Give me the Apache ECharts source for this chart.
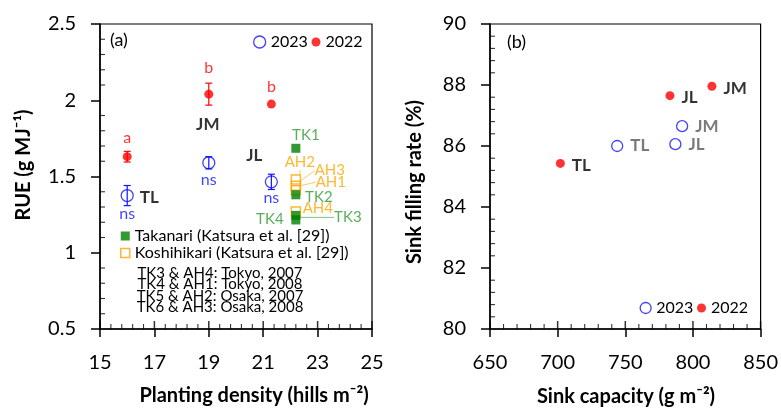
<!DOCTYPE html>
<html><head><meta charset="utf-8">
<script src="https://cdn.jsdelivr.net/npm/echarts@6/dist/echarts.min.js"></script>
<style>html,body{margin:0;padding:0;background:#fff}#c{width:781px;height:408px}</style>
</head><body><div id="c"></div>
<script>
// ---------- Panel (a) data ----------
const cultivars = ['TL', 'JM', 'JL'];
const density = [16, 19, 21.3];
const rue2022 = [1.63, 2.04, 1.975];
const rue2022Err = [0.035, 0.072, 0];
const rue2023 = [1.375, 1.59, 1.465];
const rue2023Err = [0.066, 0.04, 0.05];
const sig2022 = ['a', 'b', 'b'];
const sig2023 = ['ns', 'ns', 'ns'];
const takanariNames = ['TK1', 'TK2', 'TK3', 'TK4'];
const takanariDensity = [22.2, 22.2, 22.2, 22.2];
const takanariRue = [1.685, 1.38, 1.245, 1.215];
const koshiNames = ['AH1', 'AH2', 'AH3', 'AH4'];
const koshiDensity = [22.2, 22.2, 22.2, 22.2];
const koshiRue = [1.41, 1.48, 1.44, 1.27];
const siteNotes = ['TK3 & AH4: Tokyo, 2007', 'TK4 & AH1: Tokyo, 2008', 'TK5 & AH2: Osaka, 2007', 'TK6 & AH3: Osaka, 2008'];
const takanariLegend = 'Takanari (Katsura et al. [29])';
const koshiLegend = 'Koshihikari (Katsura et al. [29])';

// ---------- Panel (b) data (order: TL, JM, JL) ----------
const sinkCap2022 = [702, 814, 783];
const fill2022 = [85.43, 87.96, 87.65];
const sinkCap2023 = [744, 792, 787];
const fill2023 = [86.0, 86.65, 86.06];

// ---------- axis ranges (major step, minor subdivisions) ----------
const axisA = { xMin: 15, xMax: 25, xStep: 2, xSplit: 5, yMin: 0.5, yMax: 2.5, yStep: 0.5, ySplit: 5 };
const axisB = { xMin: 650, xMax: 850, xStep: 50, xSplit: 5, yMin: 80, yMax: 90, yStep: 2, ySplit: 5 };

// ---------- styling (label placement offsets, px) ----------
const FONT = 'Lato';
const BLUE = '#1010ff', RED = '#ff0000', GREEN = '#007f00', GREEN_T = '#2e9a2e', ORANGE = '#ffa500';
const tkOffsets = [[10, -13], [23, 2], [52, 2], [-26, -1]];
const tkLines = [false, false, true, false];
const ahOffsets = [[35, -8], [4, -17], [34, -15], [22, -3]];
const ahLines = [true, true, true, false];
const cultLabelOffsets = [[22, 41], [-1, 30], [-17, 51]];
const sig2022Dist = [6, 14, 5];
const sig2023Dist = [4, 2, 1];

const chart = echarts.init(document.getElementById('c'), null, { renderer: 'canvas' });

function mainAxis(grid, min, max, step, pos, tickLen) {
  return { gridIndex: grid, type: 'value', min, max, interval: step, position: pos,
    splitLine: { show: false },
    axisLine: { onZero: false, lineStyle: { color: '#000', width: 1.5 } },
    axisTick: { show: true, length: tickLen, lineStyle: { color: '#000', width: 1.5 } },
    axisLabel: { color: '#000', fontSize: 20, fontFamily: FONT, margin: 24 } };
}

// tick positions along an axis (axis decoration, derived from the axis range)
function tickValues(min, max, step, splits, majorsOnly) {
  const out = [];
  const n = Math.round((max - min) / step * splits);
  for (let i = 0; i <= n; i++) {
    const isMajor = i % splits === 0;
    if (majorsOnly ? isMajor : !isMajor) out.push(+(min + i * step / splits).toFixed(6));
  }
  return out;
}
// inward ticks drawn as thin rect symbols placed by the axis scale
function tickSeries(values, dir, fixed, len, width, gi) {
  return {
    type: 'scatter', xAxisIndex: gi, yAxisIndex: gi, silent: true, z: 6, clip: false,
    symbol: 'rect',
    symbolSize: dir === 'x' ? [width, len] : [len, width],
    symbolOffset: dir === 'x' ? [0, -len / 2] : [len / 2, 0],
    itemStyle: { color: '#000', borderWidth: 0 },
    label: { show: false },
    data: values.map(v => dir === 'x' ? [v, fixed] : [fixed, v])
  };
}
function panelTicks(a, gi) {
  return [
    tickSeries(tickValues(a.xMin, a.xMax, a.xStep, a.xSplit, false), 'x', a.yMin, 5, 1.1, gi),
    tickSeries(tickValues(a.xMin, a.xMax, a.xStep, a.xSplit, true), 'x', a.yMin, 8, 1.5, gi),
    tickSeries(tickValues(a.yMin, a.yMax, a.yStep, a.ySplit, false), 'y', a.xMin, 5, 1.1, gi)
  ];
}

function errorSeries(xs, ys, errs, color) {
  return {
    type: 'custom', xAxisIndex: 0, yAxisIndex: 0, silent: true, z: 1,
    encode: { x: 0, y: [1, 2] },
    data: xs.map((x, i) => [x, ys[i] - errs[i], ys[i] + errs[i]]),
    renderItem(params, api) {
      const lo = api.coord([api.value(0), api.value(1)]);
      const hi = api.coord([api.value(0), api.value(2)]);
      if (Math.abs(hi[1] - lo[1]) < 0.5) return { type: 'group', children: [] };
      const w = 3.5, st = { stroke: color, lineWidth: 1.2 };
      return { type: 'group', children: [
        { type: 'line', shape: { x1: lo[0], y1: lo[1], x2: hi[0], y2: hi[1] }, style: st },
        { type: 'line', shape: { x1: lo[0] - w, y1: lo[1], x2: lo[0] + w, y2: lo[1] }, style: st },
        { type: 'line', shape: { x1: hi[0] - w, y1: hi[1], x2: hi[0] + w, y2: hi[1] }, style: st }
      ] };
    }
  };
}

function yearLegend(name, left, top, size, iconStyle) {
  return { show: true, selectedMode: false, left, top, padding: 0, itemWidth: size, itemHeight: size,
    textStyle: { fontFamily: FONT, fontSize: 16, color: '#000' },
    data: [{ name, icon: 'circle', itemStyle: iconStyle }] };
}

const openBlue = { color: 'rgba(0,0,0,0)', borderColor: BLUE, borderWidth: 1.3 };
const solidRed = { color: RED, borderWidth: 0 };
const boldLabel = { fontFamily: FONT, fontWeight: 'bold', fontSize: 17 };

const option = {
  backgroundColor: '#fff',
  animation: false,
  grid: [
    { left: 100, right: 409, top: 24, bottom: 79, show: true, backgroundColor: 'rgba(0,0,0,0)', borderColor: '#000', borderWidth: 1.2, containLabel: false },
    { left: 490, right: 19, top: 24, bottom: 79, show: true, backgroundColor: 'rgba(0,0,0,0)', borderColor: '#000', borderWidth: 1.2, containLabel: false }
  ],
  xAxis: [
    mainAxis(0, axisA.xMin, axisA.xMax, axisA.xStep, 'bottom', 8),
    mainAxis(1, axisB.xMin, axisB.xMax, axisB.xStep, 'bottom', 8)
  ],
  yAxis: [
    mainAxis(0, axisA.yMin, axisA.yMax, axisA.yStep, 'left', 9),
    mainAxis(1, axisB.yMin, axisB.yMax, axisB.yStep, 'left', 9)
  ],
  legend: [
    yearLegend('2023', 253, 34, 12, openBlue),
    yearLegend('2022', 311.5, 34, 9, solidRed),
    yearLegend('2023', 639.5, 300, 11, openBlue),
    yearLegend('2022', 697, 300, 9, solidRed),
    { show: true, selectedMode: false, left: 120, top: 228, padding: 0, orient: 'vertical', itemGap: 1,
      itemWidth: 9, itemHeight: 9, textStyle: { fontFamily: FONT, fontSize: 16, color: '#000', lineHeight: 15 },
      data: [
        { name: takanariLegend, icon: 'rect', itemStyle: { color: GREEN, borderWidth: 0 } },
        { name: koshiLegend, icon: 'rect', itemStyle: { color: 'rgba(0,0,0,0)', borderColor: ORANGE, borderWidth: 1.5 } }
      ] }
  ],
  graphic: [
    { type: 'text', left: 110, top: 31, style: { text: '(a)', font: '18px ' + FONT, fill: '#000' } },
    { type: 'text', left: 507, top: 33, style: { text: '(b)', font: '18px ' + FONT, fill: '#000' } },
    ...siteNotes.map((t, i) => ({ type: 'text', x: 220, y: [272.7, 284.2, 295.7, 307.2][i],
      style: { text: t, font: '15px ' + FONT, fill: '#000', textAlign: 'center', textVerticalAlign: 'middle' } })),
    { type: 'text', x: 254, y: 396, style: { text: 'Planting density (hills m\u207B\u00B2)', font: 'bold 20px ' + FONT, fill: '#000', textAlign: 'center', textVerticalAlign: 'middle' } },
    { type: 'text', x: 626, y: 397, style: { text: 'Sink capacity (g m\u207B\u00B2)', font: 'bold 20px ' + FONT, fill: '#000', textAlign: 'center', textVerticalAlign: 'middle' } },
    { type: 'text', x: 24, y: 165, rotation: Math.PI / 2, style: { text: 'RUE (g MJ\u207B\u00B9)', font: 'bold 20px ' + FONT, fill: '#000', textAlign: 'center', textVerticalAlign: 'middle' } },
    { type: 'text', x: 415, y: 182, rotation: Math.PI / 2, style: { text: 'Sink filling rate (%)', font: 'bold 20px ' + FONT, fill: '#000', textAlign: 'center', textVerticalAlign: 'middle' } }
  ],
  series: [
    ...panelTicks(axisA, 0),
    ...panelTicks(axisB, 1),
    errorSeries(density, rue2022, rue2022Err, RED),
    errorSeries(density, rue2023, rue2023Err, BLUE),
    { name: '2023', type: 'scatter', xAxisIndex: 0, yAxisIndex: 0, symbol: 'circle', symbolSize: 12, z: 3,
      itemStyle: openBlue,
      data: density.map((x, i) => ({ value: [x, rue2023[i]],
        label: { show: true, position: 'bottom', distance: sig2023Dist[i], formatter: sig2023[i], color: BLUE, fontFamily: FONT, fontSize: 16 } })) },
    { name: '2022', type: 'scatter', xAxisIndex: 0, yAxisIndex: 0, symbol: 'circle', symbolSize: 9, z: 3,
      itemStyle: solidRed,
      data: density.map((x, i) => ({ value: [x, rue2022[i]],
        label: { show: true, position: 'top', distance: sig2022Dist[i], formatter: sig2022[i], color: RED, fontFamily: FONT, fontSize: 16 } })) },
    { name: 'cultivarNames', type: 'scatter', xAxisIndex: 0, yAxisIndex: 0, symbolSize: 0, silent: true, z: 4,
      data: density.map((x, i) => ({ value: [x, rue2022[i]],
        label: Object.assign({ show: true, position: 'inside', offset: cultLabelOffsets[i], formatter: cultivars[i], color: '#000' }, boldLabel) })) },
    { name: koshiLegend, type: 'scatter', xAxisIndex: 0, yAxisIndex: 0, symbol: 'rect', symbolSize: 9, z: 3,
      itemStyle: { color: 'rgba(0,0,0,0)', borderColor: ORANGE, borderWidth: 1.5 },
      label: { show: true, position: 'inside', color: ORANGE, fontFamily: FONT, fontSize: 15, formatter: p => koshiNames[p.dataIndex] },
      labelLayout: p => ({ dx: ahOffsets[p.dataIndex][0], dy: ahOffsets[p.dataIndex][1] }),
      data: koshiDensity.map((x, i) => ({ value: [x, koshiRue[i]], labelLine: { show: ahLines[i], lineStyle: { color: ORANGE, width: 0.6 } } })) },
    { name: takanariLegend, type: 'scatter', xAxisIndex: 0, yAxisIndex: 0, symbol: 'rect', symbolSize: 9, z: 4,
      itemStyle: { color: GREEN },
      label: { show: true, position: 'inside', color: GREEN_T, fontFamily: FONT, fontSize: 15, formatter: p => takanariNames[p.dataIndex] },
      labelLayout: p => ({ dx: tkOffsets[p.dataIndex][0], dy: tkOffsets[p.dataIndex][1] }),
      data: takanariDensity.map((x, i) => ({ value: [x, takanariRue[i]], labelLine: { show: tkLines[i], lineStyle: { color: GREEN_T, width: 0.6 } } })) },
    { name: '2023', type: 'scatter', xAxisIndex: 1, yAxisIndex: 1, symbol: 'circle', symbolSize: 11, z: 3,
      itemStyle: openBlue,
      label: Object.assign({ show: true, position: 'right', distance: 7, color: '#595959', formatter: p => cultivars[p.dataIndex] }, boldLabel),
      data: sinkCap2023.map((x, i) => [x, fill2023[i]]) },
    { name: '2022', type: 'scatter', xAxisIndex: 1, yAxisIndex: 1, symbol: 'circle', symbolSize: 9, z: 3,
      itemStyle: solidRed,
      label: Object.assign({ show: true, position: 'right', distance: 7, offset: [0, 2], color: '#000', formatter: p => cultivars[p.dataIndex] }, boldLabel),
      data: sinkCap2022.map((x, i) => [x, fill2022[i]]) }
  ]
};
chart.setOption(option);
</script>
</body></html>
